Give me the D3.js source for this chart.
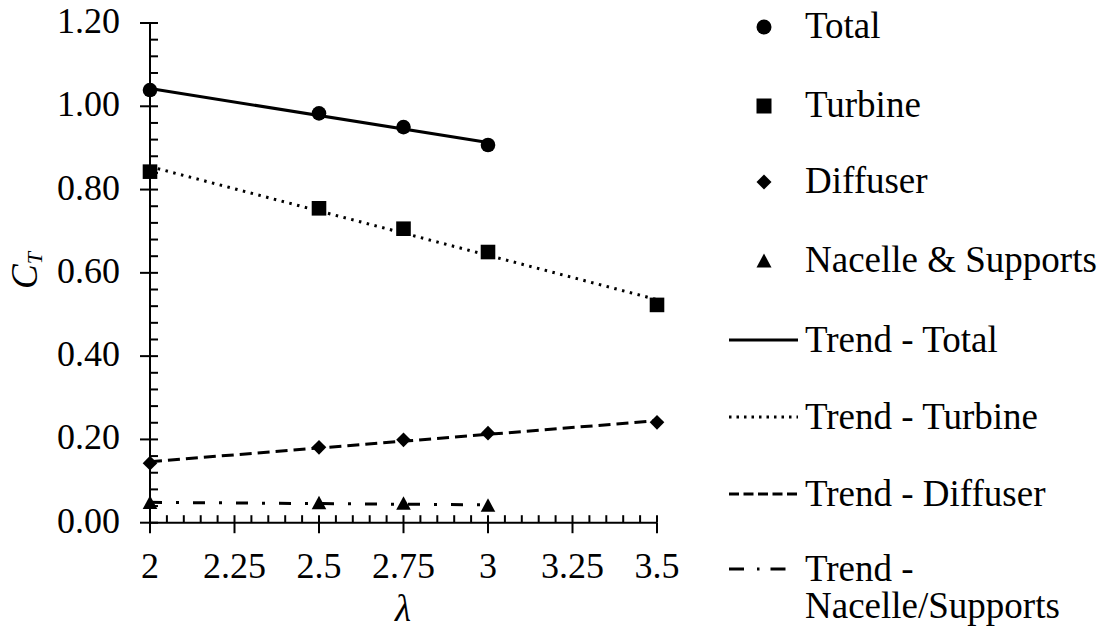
<html>
<head>
<script src="https://d3js.org/d3.v7.min.js"></script>
</head>
<body style="margin:0">
<svg id="chart" width="1110" height="636"></svg>
<script>
// tip speed ratio values
const lambdaAll = [2, 2.5, 2.75, 3, 3.5];
const lambdaShort = [2, 2.5, 2.75, 3];

// thrust coefficients
const ctTotal = [1.039, 0.983, 0.950, 0.907];
const ctTurbine = [0.843, 0.755, 0.706, 0.650, 0.523];
const ctDiffuser = [0.143, 0.181, 0.199, 0.215, 0.241];
const ctNacelle = [0.048, 0.047, 0.046, 0.041];

const xTicks = [2, 2.25, 2.5, 2.75, 3, 3.25, 3.5];
const xTickLabels = ["2", "2.25", "2.5", "2.75", "3", "3.25", "3.5"];
const yTicks = [0, 0.2, 0.4, 0.6, 0.8, 1.0, 1.2];
const yTickLabels = ["0.00", "0.20", "0.40", "0.60", "0.80", "1.00", "1.20"];

const legendLabels = ["Total", "Turbine", "Diffuser", "Nacelle & Supports",
  "Trend - Total", "Trend - Turbine", "Trend - Diffuser", "Trend -|Nacelle/Supports"];

const FONT = "\"Times New Roman\", \"Liberation Serif\", serif";

const svg = d3.select("#chart");

const x = d3.scaleLinear().domain([2, 3.5]).range([150, 657]);
const y = d3.scaleLinear().domain([0, 1.2]).range([522.7, 23]);

// minor ticks
const xMinor = d3.range(0, 31).map(k => 2 + k * 0.05);
const yMinor = d3.range(0, 31).map(k => k * 0.04);

// ---- axes (drawn from the scales) ----
const ax = svg.append("g").attr("stroke", "#000").attr("stroke-width", 2);
ax.append("line").attr("x1", x(2)).attr("x2", x(2)).attr("y1", y(1.2)).attr("y2", y(0));
ax.append("line").attr("x1", x(2)).attr("x2", x(3.5)).attr("y1", y(0)).attr("y2", y(0));
ax.selectAll("line.ymaj").data(yTicks).join("line").attr("class", "ymaj")
  .attr("x1", x(2) - 10).attr("x2", x(2)).attr("y1", d => y(d)).attr("y2", d => y(d));
ax.selectAll("line.ymin").data(yMinor).join("line").attr("class", "ymin")
  .attr("x1", x(2)).attr("x2", x(2) + 8).attr("y1", d => y(d)).attr("y2", d => y(d));
ax.selectAll("line.xmaj").data(xTicks).join("line").attr("class", "xmaj")
  .attr("x1", d => x(d)).attr("x2", d => x(d)).attr("y1", y(0)).attr("y2", y(0) + 10.5);
ax.selectAll("line.xmin").data(xMinor).join("line").attr("class", "xmin")
  .attr("x1", d => x(d)).attr("x2", d => x(d)).attr("y1", y(0) - 7.5).attr("y2", y(0));

const labels = svg.append("g");
labels.selectAll("text.ylab").data(yTicks).join("text")
  .attr("class", "ylab")
  .attr("x", 120).attr("y", d => y(d) + 10)
  .attr("text-anchor", "end").attr("font-size", 36)
  .text((d, i) => yTickLabels[i]);
labels.selectAll("text.xlab").data(xTicks).join("text")
  .attr("class", "xlab")
  .attr("x", d => x(d)).attr("y", 578)
  .attr("text-anchor", "middle").attr("font-size", 36)
  .text((d, i) => xTickLabels[i]);

// axis titles
svg.append("text")
  .attr("transform", "translate(37,289) rotate(-90)")
  .attr("font-size", 37).attr("font-style", "italic")
  .text("C")
  .append("tspan").attr("dy", 5).attr("font-size", 22).text("T");

svg.append("text")
  .attr("x", 403).attr("y", 621).attr("text-anchor", "middle")
  .attr("font-size", 37).attr("font-style", "italic")
  .text("λ");

// ---- trend lines (least squares fit of each series) ----
function fit(xs, ys) {
  const mx = d3.mean(xs), my = d3.mean(ys);
  const sxy = d3.sum(xs, (v, i) => (v - mx) * (ys[i] - my));
  const sxx = d3.sum(xs, v => (v - mx) * (v - mx));
  const b = sxy / sxx;
  return t => my + b * (t - mx);
}

const series = [
  { xs: lambdaShort, ys: ctTotal, marker: "circle", dash: null, legDash: null },
  { xs: lambdaAll, ys: ctTurbine, marker: "square", dash: "2.5 5.5", legDash: "2.5 5" },
  { xs: lambdaAll, ys: ctDiffuser, marker: "diamond", dash: "12 6", legDash: "10 4.5" },
  { xs: lambdaShort, ys: ctNacelle, marker: "triangle", dash: "12 14 3 14", legDash: "15 13 2.5 11" }
];

const line = d3.line().x(d => x(d[0])).y(d => y(d[1]));

series.forEach(s => {
  const f = fit(s.xs, s.ys);
  const ends = d3.extent(s.xs);
  svg.append("path")
    .attr("d", line(ends.map(t => [t, f(t)])))
    .attr("fill", "none").attr("stroke", "#000").attr("stroke-width", 3)
    .attr("stroke-dasharray", s.dash);
});

function markerPath(type, r) {
  if (type === "circle") return d3.symbol(d3.symbolCircle, Math.PI * r * r)();
  if (type === "square") return `M${-r},${-r}H${r}V${r}H${-r}Z`;
  if (type === "diamond") return `M0,${-r}L${r},0L0,${r}L${-r},0Z`;
  return `M0,${-r}L${r},${r * 0.85}L${-r},${r * 0.85}Z`;
}

series.forEach(s => {
  svg.append("g").selectAll("path")
    .data(s.xs.map((t, i) => [t, s.ys[i]]))
    .join("path")
    .attr("transform", d => `translate(${x(d[0])},${y(d[1])})`)
    .attr("d", markerPath(s.marker, 7.3))
    .attr("fill", "#000");
});

// ---- legend ----
const legBase = [38, 117, 193, 272, 352, 429, 506, 581];
const leg = svg.append("g");

legendLabels.forEach((lab, i) => {
  lab.split("|").forEach((p, j) => {
    leg.append("text").attr("x", 805).attr("y", legBase[i] + j * 37)
      .attr("font-size", 37).text(p);
  });
  if (i < 4) {
    leg.append("path")
      .attr("transform", `translate(764,${legBase[i] - 11})`)
      .attr("d", markerPath(series[i].marker, 7.5))
      .attr("fill", "#000");
  } else {
    const s = series[i - 4];
    const x2 = i === 7 ? 786 : 798;
    leg.append("line")
      .attr("x1", 729).attr("x2", x2)
      .attr("y1", legBase[i] - 12).attr("y2", legBase[i] - 12)
      .attr("stroke", "#000").attr("stroke-width", 3)
      .attr("stroke-dasharray", s.legDash);
  }
});

svg.selectAll("text").style("font-family", FONT).attr("fill", "#000");
</script>
</body>
</html>
